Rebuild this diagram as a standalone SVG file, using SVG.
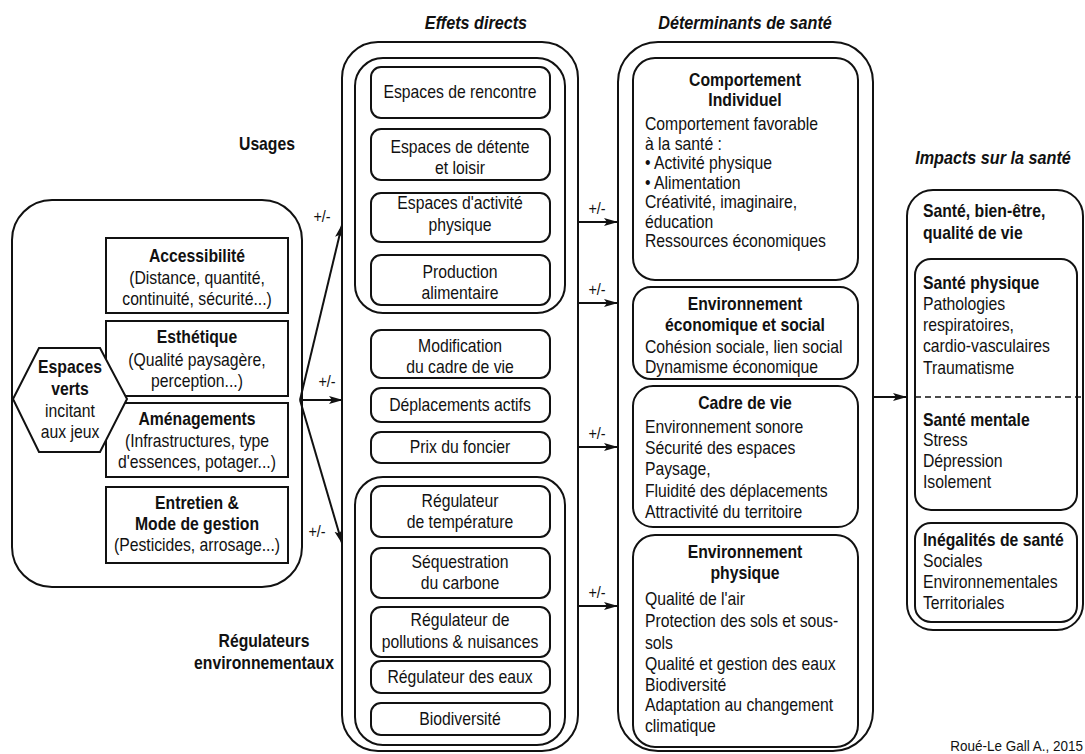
<svg xmlns="http://www.w3.org/2000/svg" width="1085" height="754" viewBox="0 0 1085 754">
<style>
.b{fill:#fff;stroke:#111;stroke-width:2}
.o{fill:none;stroke:#111;stroke-width:2}
text{font-family:"Liberation Sans",Arial,sans-serif;font-size:17.5px;fill:#111}
.c{text-anchor:middle}
.bd{font-weight:bold}
.h{font-weight:bold;font-style:italic;font-size:18px}
.pm{font-size:16px;text-anchor:middle}
.ln{fill:none;stroke:#111;stroke-width:2}
</style>
<defs>
<marker id="ah" markerWidth="14" markerHeight="10" refX="13" refY="5" orient="auto" markerUnits="userSpaceOnUse">
<path d="M0,1 L14,5 L0,9 L3,5 z" fill="#111"/>
</marker>
</defs>
<rect width="1085" height="754" fill="#fff"/>

<g id="headers">
<text class="bd c" transform="translate(267 150) scale(.9 1)">Usages</text>
<text class="h c" transform="translate(476 29) scale(.9 1)">Effets directs</text>
<text class="h c" transform="translate(745 29) scale(.9 1)">Déterminants de santé</text>
<text class="h c" transform="translate(993 164) scale(.9 1)">Impacts sur la santé</text>
<text class="bd c" transform="translate(264 647) scale(.9 1)">Régulateurs</text>
<text class="bd c" transform="translate(264 669) scale(.9 1)">environnementaux</text>
<text style="text-anchor:end;font-size:15px" transform="translate(1083 751) scale(.9 1)">Roué-Le Gall A., 2015</text>
</g>

<g id="espaces-verts">
<rect class="o" x="12" y="200" width="290" height="387" rx="40"/>
</g>
<g id="accessibilite">
<rect class="b" x="106" y="238" width="182" height="75"/>
<text class="bd c" transform="translate(197 262) scale(.9 1)">Accessibilité</text>
<text class="c" transform="translate(197 284) scale(.9 1)">(Distance, quantité,</text>
<text class="c" transform="translate(197 305) scale(.9 1)">continuité, sécurité...)</text>
</g>
<g id="esthetique">
<rect class="b" x="106" y="321" width="182" height="75"/>
<text class="bd c" transform="translate(197 343) scale(.9 1)">Esthétique</text>
<text class="c" transform="translate(197 366) scale(.9 1)">(Qualité paysagère,</text>
<text class="c" transform="translate(197 387) scale(.9 1)">perception...)</text>
</g>
<g id="amenagements">
<rect class="b" x="106" y="403" width="182" height="74"/>
<text class="bd c" transform="translate(197 425) scale(.9 1)">Aménagements</text>
<text class="c" transform="translate(197 447) scale(.9 1)">(Infrastructures, type</text>
<text class="c" transform="translate(197 468) scale(.9 1)">d'essences, potager...)</text>
</g>
<g id="entretien">
<rect class="b" x="106" y="487" width="182" height="76"/>
<text class="bd c" transform="translate(197 509) scale(.9 1)">Entretien &amp;</text>
<text class="bd c" transform="translate(197 530) scale(.9 1)">Mode de gestion</text>
<text class="c" transform="translate(197 551) scale(.9 1)">(Pesticides, arrosage...)</text>
</g>
<g id="hexagone">
<polygon class="b" points="13,399 39,348 100,348 127,399 100,452 39,452"/>
<text class="bd c" transform="translate(70 373) scale(.9 1)">Espaces</text>
<text class="bd c" transform="translate(70 395) scale(.9 1)">verts</text>
<text class="c" transform="translate(70 417) scale(.9 1)">incitant</text>
<text class="c" transform="translate(70 438) scale(.9 1)">aux jeux</text>
</g>

<g id="effets-directs">
<rect class="o" x="342" y="42" width="236" height="709" rx="36"/>
</g>
<g id="usages-groupe">
<rect class="o" x="355" y="58" width="210" height="255" rx="28"/>
</g>
<g id="rencontre">
<rect class="b" x="371" y="67" width="179" height="51" rx="10"/>
<text class="c" transform="translate(460 98) scale(.9 1)">Espaces de rencontre</text>
</g>
<g id="detente">
<rect class="b" x="371" y="129" width="179" height="51" rx="10"/>
<text class="c" transform="translate(460 153) scale(.9 1)">Espaces de détente</text>
<text class="c" transform="translate(460 174) scale(.9 1)">et loisir</text>
</g>
<g id="activite">
<rect class="b" x="371" y="193" width="179" height="49" rx="10"/>
<text class="c" transform="translate(460 209) scale(.9 1)">Espaces d'activité</text>
<text class="c" transform="translate(460 231) scale(.9 1)">physique</text>
</g>
<g id="production">
<rect class="b" x="371" y="255" width="179" height="50" rx="10"/>
<text class="c" transform="translate(460 278) scale(.9 1)">Production</text>
<text class="c" transform="translate(460 299) scale(.9 1)">alimentaire</text>
</g>
<g id="modification">
<rect class="b" x="371" y="330" width="179" height="48" rx="10"/>
<text class="c" transform="translate(460 352) scale(.9 1)">Modification</text>
<text class="c" transform="translate(460 373) scale(.9 1)">du cadre de vie</text>
</g>
<g id="deplacements">
<rect class="b" x="371" y="388" width="179" height="34" rx="10"/>
<text class="c" transform="translate(460 411) scale(.9 1)">Déplacements actifs</text>
</g>
<g id="foncier">
<rect class="b" x="371" y="432" width="179" height="31" rx="10"/>
<text class="c" transform="translate(460 453) scale(.9 1)">Prix du foncier</text>
</g>
<g id="regulateurs-groupe">
<rect class="o" x="355" y="477" width="210" height="268" rx="28"/>
</g>
<g id="temperature">
<rect class="b" x="371" y="486" width="179" height="51" rx="10"/>
<text class="c" transform="translate(460 507) scale(.9 1)">Régulateur</text>
<text class="c" transform="translate(460 528) scale(.9 1)">de température</text>
</g>
<g id="carbone">
<rect class="b" x="371" y="548" width="179" height="50" rx="10"/>
<text class="c" transform="translate(460 568) scale(.9 1)">Séquestration</text>
<text class="c" transform="translate(460 589) scale(.9 1)">du carbone</text>
</g>
<g id="pollutions">
<rect class="b" x="371" y="607" width="179" height="50" rx="10"/>
<text class="c" transform="translate(460 626) scale(.9 1)">Régulateur de</text>
<text class="c" transform="translate(460 648) scale(.9 1)">pollutions &amp; nuisances</text>
</g>
<g id="eaux">
<rect class="b" x="371" y="661" width="179" height="32" rx="10"/>
<text class="c" transform="translate(460 683) scale(.9 1)">Régulateur des eaux</text>
</g>
<g id="biodiversite">
<rect class="b" x="371" y="703" width="179" height="32" rx="10"/>
<text class="c" transform="translate(460 725) scale(.9 1)">Biodiversité</text>
</g>

<g id="determinants">
<rect class="o" x="618" y="42" width="255" height="709" rx="40"/>
</g>
<g id="comportement">
<rect class="b" x="633" y="58" width="225" height="222" rx="22"/>
<text class="bd c" transform="translate(745 86) scale(.9 1)">Comportement</text>
<text class="bd c" transform="translate(745 106) scale(.9 1)">Individuel</text>
<text transform="translate(645 130) scale(.9 1)">Comportement favorable</text>
<text transform="translate(645 149.5) scale(.9 1)">à la santé :</text>
<text transform="translate(645 169) scale(.9 1)">• Activité physique</text>
<text transform="translate(645 188.5) scale(.9 1)">• Alimentation</text>
<text transform="translate(645 208) scale(.9 1)">Créativité, imaginaire,</text>
<text transform="translate(645 227.5) scale(.9 1)">éducation</text>
<text transform="translate(645 247) scale(.9 1)">Ressources économiques</text>
</g>
<g id="eco-social">
<rect class="b" x="633" y="287" width="225" height="92" rx="18"/>
<text class="bd c" transform="translate(745 310) scale(.9 1)">Environnement</text>
<text class="bd c" transform="translate(745 331) scale(.9 1)">économique et social</text>
<text transform="translate(645 353) scale(.9 1)">Cohésion sociale, lien social</text>
<text transform="translate(645 373) scale(.9 1)">Dynamisme économique</text>
</g>
<g id="cadre-vie">
<rect class="b" x="633" y="386" width="225" height="141" rx="20"/>
<text class="bd c" transform="translate(745 409) scale(.9 1)">Cadre de vie</text>
<text transform="translate(645 433) scale(.9 1)">Environnement sonore</text>
<text transform="translate(645 454) scale(.9 1)">Sécurité des espaces</text>
<text transform="translate(645 475) scale(.9 1)">Paysage,</text>
<text transform="translate(645 497) scale(.9 1)">Fluidité des déplacements</text>
<text transform="translate(645 518) scale(.9 1)">Attractivité du territoire</text>
</g>
<g id="env-physique">
<rect class="b" x="633" y="535" width="225" height="212" rx="22"/>
<text class="bd c" transform="translate(745 558) scale(.9 1)">Environnement</text>
<text class="bd c" transform="translate(745 579) scale(.9 1)">physique</text>
<text transform="translate(645 605) scale(.9 1)">Qualité de l'air</text>
<text transform="translate(645 627) scale(.9 1)">Protection des sols et sous-</text>
<text transform="translate(645 649) scale(.9 1)">sols</text>
<text transform="translate(645 670) scale(.9 1)">Qualité et gestion des eaux</text>
<text transform="translate(645 691) scale(.9 1)">Biodiversité</text>
<text transform="translate(645 711) scale(.9 1)">Adaptation au changement</text>
<text transform="translate(645 732) scale(.9 1)">climatique</text>
</g>

<g id="impacts">
<rect class="o" x="907" y="190" width="176" height="440" rx="26"/>
<text class="bd" transform="translate(923 217) scale(.9 1)">Santé, bien-être,</text>
<text class="bd" transform="translate(923 239) scale(.9 1)">qualité de vie</text>
</g>
<g id="sante">
<rect class="b" x="915" y="259" width="162" height="251" rx="16"/>
<line x1="915" y1="397" x2="1083" y2="397" stroke="#111" stroke-width="1.5" stroke-dasharray="6,4"/>
<text class="bd" transform="translate(923 289) scale(.9 1)">Santé physique</text>
<text transform="translate(923 310) scale(.9 1)">Pathologies</text>
<text transform="translate(923 331) scale(.9 1)">respiratoires,</text>
<text transform="translate(923 352) scale(.9 1)">cardio-vasculaires</text>
<text transform="translate(923 374) scale(.9 1)">Traumatisme</text>
<text class="bd" transform="translate(923 426) scale(.9 1)">Santé mentale</text>
<text transform="translate(923 446) scale(.9 1)">Stress</text>
<text transform="translate(923 467) scale(.9 1)">Dépression</text>
<text transform="translate(923 488) scale(.9 1)">Isolement</text>
</g>
<g id="inegalites">
<rect class="b" x="915" y="523" width="162" height="99" rx="16"/>
<text class="bd" transform="translate(923 546) scale(.9 1)">Inégalités de santé</text>
<text transform="translate(923 567) scale(.9 1)">Sociales</text>
<text transform="translate(923 588) scale(.9 1)">Environnementales</text>
<text transform="translate(923 609) scale(.9 1)">Territoriales</text>
</g>

<g id="connectors">
<path class="ln" d="M300,400 L342,225" marker-end="url(#ah)"/>
<path class="ln" d="M300,400 L342,400" marker-end="url(#ah)"/>
<path class="ln" d="M300,400 L342,543" marker-end="url(#ah)"/>
<text class="pm" transform="translate(322 222) scale(.9 1)">+/-</text>
<text class="pm" transform="translate(327 387) scale(.9 1)">+/-</text>
<text class="pm" transform="translate(317 537) scale(.9 1)">+/-</text>
<path class="ln" d="M578,222 L617,222" marker-end="url(#ah)"/>
<path class="ln" d="M578,303 L617,303" marker-end="url(#ah)"/>
<path class="ln" d="M578,447 L617,447" marker-end="url(#ah)"/>
<path class="ln" d="M578,606 L617,606" marker-end="url(#ah)"/>
<text class="pm" transform="translate(597 214) scale(.9 1)">+/-</text>
<text class="pm" transform="translate(597 295) scale(.9 1)">+/-</text>
<text class="pm" transform="translate(597 439) scale(.9 1)">+/-</text>
<text class="pm" transform="translate(597 598) scale(.9 1)">+/-</text>
<path class="ln" d="M873,397 L906,397" marker-end="url(#ah)"/>
</g>
</svg>
